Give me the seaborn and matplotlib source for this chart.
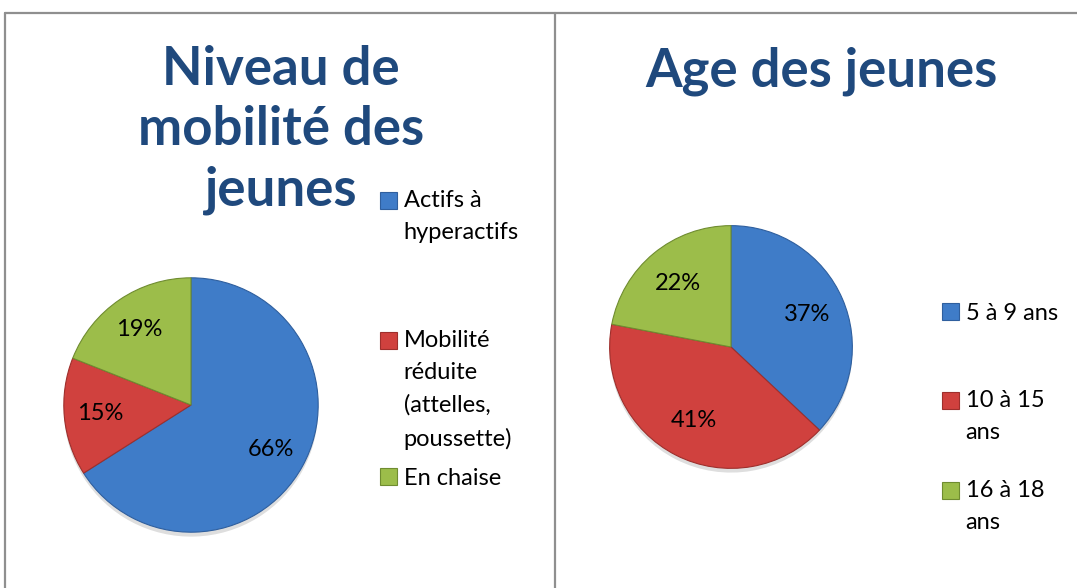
import matplotlib
matplotlib.use("Agg")
import matplotlib.pyplot as plt
import seaborn as sns
from matplotlib.lines import Line2D
from matplotlib.patches import Patch, Rectangle
from matplotlib.legend_handler import HandlerPatch

sns.set_theme(style="white")
plt.rcParams['font.family'] = ['Lato', 'DejaVu Sans']

# Data
mobilite_labels = ["Actifs à\nhyperactifs", "Mobilité\nréduite\n(attelles,\npoussette)", "En chaise"]
mobilite_values = [66, 15, 19]
age_labels = ["5 à 9 ans", "10 à 15\nans", "16 à 18\nans"]
age_values = [37, 41, 22]
titles = ["Niveau de\nmobilité des\njeunes", "Age des jeunes"]

colors = ["#3F7CC8", "#D0413E", "#9CBD4A"]
edges = ["#2F5F9E", "#9E2F2C", "#6F8C30"]
title_color = "#1F497D"

W, H = 1077, 588
fig = plt.figure(figsize=(W / 100, H / 100), dpi=100)
fig.patch.set_facecolor("white")

def fx(x): return x / W
def fy(y): return 1 - y / H

# panel borders
bc = "#8F8F8F"
for seg in [((5, 13), (1077, 13)), ((5, 13), (5, 588)), ((555, 13), (555, 588))]:
    (x0, y0), (x1, y1) = seg
    fig.add_artist(Line2D([fx(x0), fx(x1)], [fy(y0), fy(y1)], color=bc, lw=1.6))

def draw_pie(values, cx, cy, r, pctd):
    ax = fig.add_axes([fx(cx - r), fy(cy + r), 2 * r / W, 2 * r / H])
    # soft shadow under the pie
    ax.pie(values, colors=["#000000"] * len(values), startangle=90, counterclock=False,
           radius=1.0, center=(0.0, -0.035),
           wedgeprops=dict(linewidth=0, alpha=0.13))
    wedges, texts, autotexts = ax.pie(
        values, colors=colors, startangle=90, counterclock=False,
        autopct=lambda p: f"{p:.0f}%", pctdistance=pctd, radius=1,
        wedgeprops=dict(linewidth=0.8),
        textprops=dict(fontsize=17, color="black"))
    for w, e in zip(wedges, edges):
        w.set_edgecolor(e)
    ax.set_xlim(-1.03, 1.03)
    ax.set_ylim(-1.03, 1.03)
    ax.set_aspect("equal")
    ax.axis("off")
    return ax

draw_pie(mobilite_values, 191, 405, 131, 0.72)
draw_pie(age_values, 731, 347, 125, 0.68)

# titles
fig.text(fx(281), fy(130), titles[0], ha="center", va="center", fontsize=38,
         fontweight="bold", color=title_color, linespacing=1.27)
fig.text(fx(821), fy(71), titles[1], ha="center", va="center", fontsize=38,
         fontweight="bold", color=title_color)

FS = 17
LS = 1.65
LINE_PT = 33 * 0.72  # target line height in points

class TopPatchHandler(HandlerPatch):
    def create_artists(self, legend, orig_handle, xdescent, ydescent, width, height, fontsize, trans):
        n = getattr(orig_handle, "_nlines", 1)
        off = (n - 1) / 2 * LINE_PT
        p = Rectangle(xy=(-xdescent, -ydescent + off), width=width, height=height)
        self.update_prop(p, orig_handle, legend)
        p.set_transform(trans)
        return [p]

def add_entry(label, color, edge, x, ytop):
    h = Patch(facecolor=color, edgecolor=edge, linewidth=0.8)
    h._nlines = label.count("\n") + 1
    leg = fig.legend(handles=[h], labels=[label], loc="upper left",
                     bbox_to_anchor=(fx(x), fy(ytop)), frameon=False,
                     fontsize=FS, handlelength=0.7, handleheight=0.7,
                     handletextpad=0.3, borderpad=0, borderaxespad=0,
                     handler_map={Patch: TopPatchHandler()})
    for t in leg.get_texts():
        t.set_linespacing(LS)
        t.set_color("black")
    return leg

left_pos = [190, 330, 468]
for lab, c, e, y in zip(mobilite_labels, colors, edges, left_pos):
    add_entry(lab, c, e, 380, y)

right_pos = [303, 390, 480]
for lab, c, e, y in zip(age_labels, colors, edges, right_pos):
    add_entry(lab, c, e, 942, y)

fig.savefig("out.png", dpi=100, facecolor="white")
